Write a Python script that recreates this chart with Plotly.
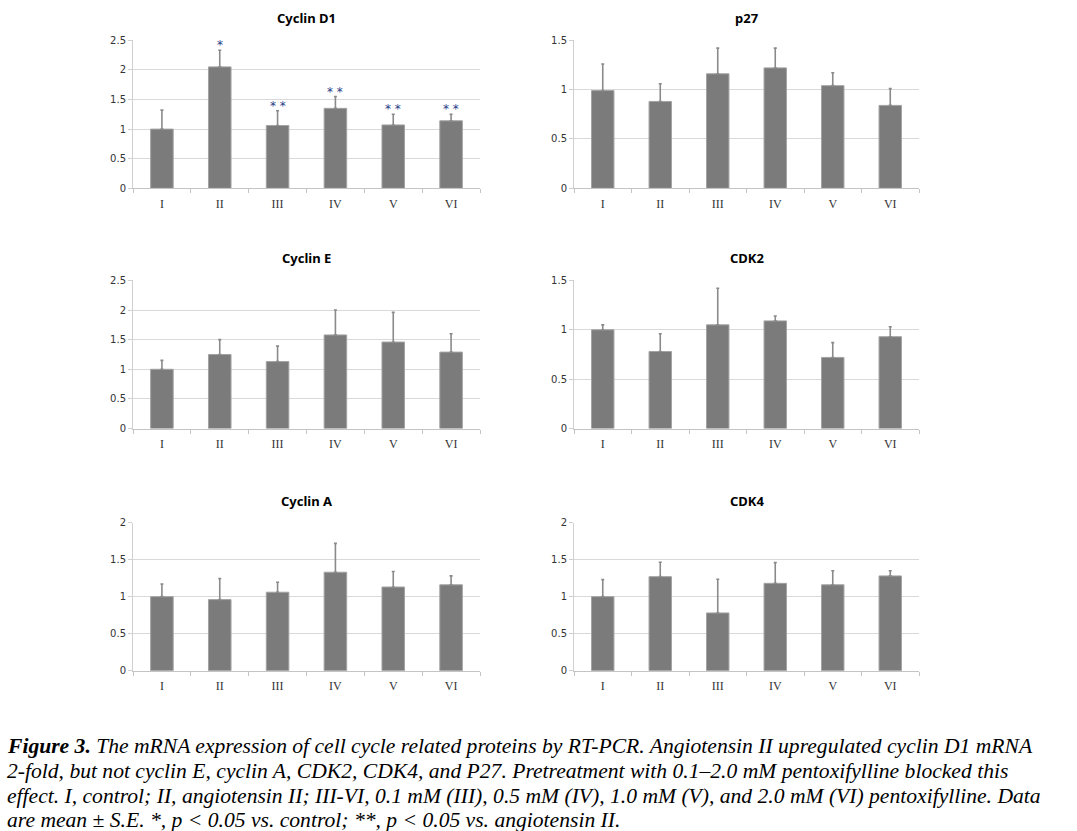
import plotly.graph_objects as go

# ---------------- data ----------------
groups = ["I", "II", "III", "IV", "V", "VI"]

cyclin_d1 = [1.00, 2.05, 1.06, 1.35, 1.07, 1.14]
cyclin_d1_se = [0.32, 0.28, 0.25, 0.20, 0.18, 0.11]
cyclin_d1_sig = ["", "*", "* *", "* *", "* *", "* *"]

p27 = [0.99, 0.88, 1.16, 1.22, 1.04, 0.84]
p27_se = [0.27, 0.18, 0.26, 0.20, 0.13, 0.17]

cyclin_e = [1.00, 1.25, 1.13, 1.58, 1.46, 1.29]
cyclin_e_se = [0.15, 0.25, 0.26, 0.42, 0.50, 0.31]

cdk2 = [1.00, 0.78, 1.05, 1.09, 0.72, 0.93]
cdk2_se = [0.05, 0.18, 0.37, 0.05, 0.15, 0.10]

cyclin_a = [1.00, 0.96, 1.06, 1.33, 1.13, 1.16]
cyclin_a_se = [0.17, 0.285, 0.135, 0.39, 0.21, 0.12]

cdk4 = [1.00, 1.27, 0.78, 1.18, 1.16, 1.28]
cdk4_se = [0.23, 0.195, 0.455, 0.28, 0.19, 0.07]

titles = ["Cyclin D1", "p27", "Cyclin E", "CDK2", "Cyclin A", "CDK4"]
y_max = [2.5, 1.5, 2.5, 1.5, 2, 2]
y_ticks = [
    [0, 0.5, 1, 1.5, 2, 2.5],
    [0, 0.5, 1, 1.5],
    [0, 0.5, 1, 1.5, 2, 2.5],
    [0, 0.5, 1, 1.5],
    [0, 0.5, 1, 1.5, 2],
    [0, 0.5, 1, 1.5, 2],
]
values = [cyclin_d1, p27, cyclin_e, cdk2, cyclin_a, cdk4]
errors = [cyclin_d1_se, p27_se, cyclin_e_se, cdk2_se, cyclin_a_se, cdk4_se]

caption_lines = [
    "<b>Figure 3.</b> The mRNA expression of cell cycle related proteins by RT-PCR. Angiotensin II upregulated cyclin D1 mRNA",
    "2-fold, but not cyclin E, cyclin A, CDK2, CDK4, and P27. Pretreatment with 0.1\u20132.0 mM pentoxifylline blocked this",
    "effect. I, control; II, angiotensin II; III-VI, 0.1 mM (III), 0.5 mM (IV), 1.0 mM (V), and 2.0 mM (VI) pentoxifylline. Data",
    "are mean \u00b1 S.E. *, p &lt; 0.05 vs. control; **, p &lt; 0.05 vs. angiotensin II.",
]

# ---------------- layout geometry (pixels) ----------------
W, H = 1077, 831


def py(Y):
    # vertical pixel position -> paper fraction (with small empirical correction)
    y = (Y - 5.8) / 0.986
    return 1 - y / H


col_x = [(133, 480), (574, 919)]
row_y = [(40, 188), (280, 428), (522, 670)]

fig = go.Figure()
annotations = []
layout_axes = {}

for i in range(6):
    r, c = divmod(i, 2)
    x0, x1 = col_x[c]
    yt, yb = row_y[r]
    n = i + 1
    xa = "x" if n == 1 else f"x{n}"
    ya = "y" if n == 1 else f"y{n}"
    fig.add_trace(go.Bar(
        x=groups, y=values[i], xaxis=xa, yaxis=ya,
        marker=dict(color="#7b7b7b", line=dict(color="#a3a3a3", width=1)),
        error_y=dict(type="data", array=errors[i], arrayminus=[0] * 6,
                     symmetric=False, color="#8a8a8a", thickness=1.6, width=1.5),
        showlegend=False, hoverinfo="skip",
    ))
    xkey = "xaxis" if n == 1 else f"xaxis{n}"
    ykey = "yaxis" if n == 1 else f"yaxis{n}"
    layout_axes[xkey] = dict(
        domain=[x0 / W, x1 / W], anchor=ya,
        showgrid=False, showline=True, linecolor="#c4c4c4", linewidth=1,
        ticks="outside", tickson="boundaries", ticklen=4, tickcolor="#c4c4c4",
        ticklabelstandoff=4,
        tickfont=dict(family="Liberation Serif", size=12, color="#333333"),
        fixedrange=True,
    )
    layout_axes[ykey] = dict(
        domain=[py(yb), py(yt)], anchor=xa,
        range=[0, y_max[i]], tickvals=y_ticks[i],
        ticktext=[f"{v:g}" for v in y_ticks[i]],
        showgrid=True, gridcolor="#d9d9d9", gridwidth=1,
        showline=True, linecolor="#d0d0d0", linewidth=1,
        ticks="outside", ticklen=4, tickcolor="#d0d0d0",
        tickfont=dict(family="DejaVu Sans", size=10, color="#333333"),
        zeroline=False, fixedrange=True,
    )
    annotations.append(dict(
        text=f"<b>{titles[i]}</b>", xref="paper", yref="paper",
        x=(x0 + x1) / 2 / W, y=py(yt - 22), xanchor="center", yanchor="middle",
        showarrow=False, font=dict(family="Noto Sans", size=13, color="#000000"),
    ))

# significance marks for Cyclin D1
for g, v, e, s in zip(groups, cyclin_d1, cyclin_d1_se, cyclin_d1_sig):
    if s:
        annotations.append(dict(
            text=s, x=g, y=v + e, xref="x", yref="y",
            xanchor="center", yanchor="bottom", yshift=-4,
            showarrow=False, font=dict(family="DejaVu Sans", size=12, color="#1f3c88"),
        ))

# caption lines
cap_y = [745, 770, 795, 819]
for line, yy in zip(caption_lines, cap_y):
    annotations.append(dict(
        text=f"<i>{line}</i>", xref="paper", yref="paper",
        x=5 / W, y=py(yy), xanchor="left", yanchor="middle",
        showarrow=False, font=dict(family="Liberation Serif", size=21.6, color="#000000"),
    ))

fig.update_layout(
    width=W, height=H, margin=dict(l=0, r=0, t=0, b=0),
    paper_bgcolor="white", plot_bgcolor="white",
    bargap=0.61, annotations=annotations, **layout_axes,
)

fig.write_html("out.html", config={"displayModeBar": False},
               post_script="document.body.style.margin='0';")
